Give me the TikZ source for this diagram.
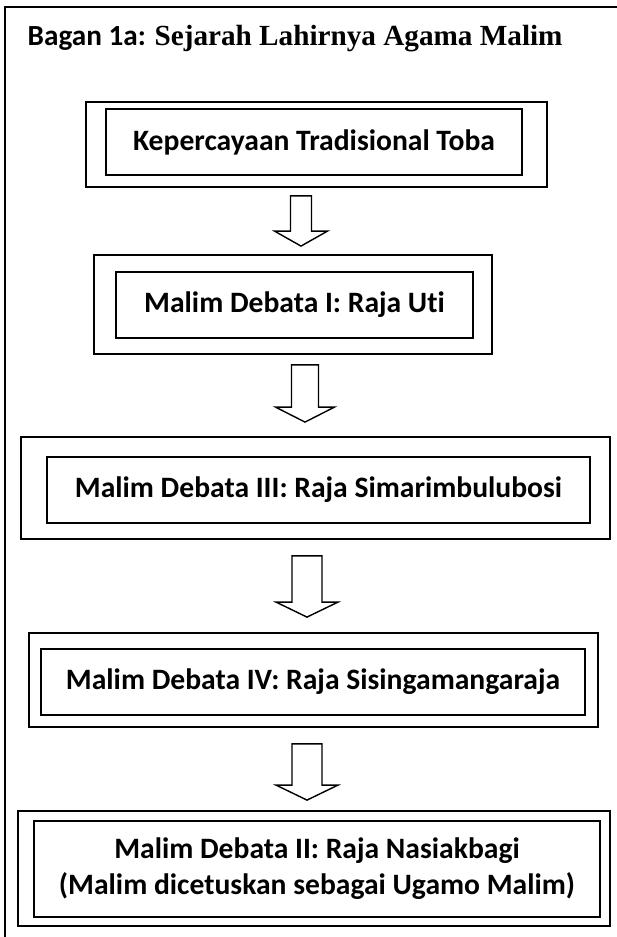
\documentclass[tikz,border=0pt]{standalone}
\usepackage{fontspec}
\setmainfont{Carlito}[Ligatures=NoCommon]
\newfontfamily\timesbold{Liberation Serif}
\usepackage{tikz}
\usetikzlibrary{calc}
\newcommand{\boxfont}{\fontsize{29.6}{36}\selectfont\bfseries}
\newcommand{\hollowdown}[6]{%
  \draw[hollow] let \p1=(#1.south), \p2=(#2.north) in
    (#3-#4,\y1-#5) -- (#3+#4,\y1-#5) -- (#3+#4,\y2+#6+15) -- (#3+#4+16,\y2+#6+15)
    -- (#3,\y2+#6) -- (#3-#4-16,\y2+#6+15) -- (#3-#4,\y2+#6+15) -- cycle;}
\tikzset{
  frame/.style={black,line width=1.8pt},
  outerbox/.style={draw=black,line width=1.8pt,inner sep=0pt},
  innerbox/.style={draw=black,line width=1.8pt,inner sep=0pt,align=center,font=\boxfont},
  hollow/.style={draw=black,line width=1.4pt,fill=white,line join=miter},
  heading/.style={inner sep=0pt,anchor=base west,font=\fontsize{29.2}{33}\selectfont\bfseries},
}

\begin{document}
\begin{tikzpicture}[x=1pt,y=1pt]
  \useasboundingbox (0,0) rectangle (617,937);
  \draw[frame] (5,0) |- (617,930);
  \node[heading] (title) at (27.5,891)
    {Bagan 1a: {\timesbold Sejarah Lahirnya Agama Malim}};

  \node[outerbox,minimum width=461,minimum height=85] (toba) at (316.5,792.5) {};
  \node[innerbox,minimum width=416,minimum height=66] (toba-in) at (314,795)
    {Kepercayaan Tradisional Toba};

  \node[outerbox,minimum width=398,minimum height=99] (uti) at (293,632.5) {};
  \node[innerbox,minimum width=357,minimum height=66] (uti-in) at (294.5,632)
    {Malim Debata I: Raja Uti};

  \node[outerbox,minimum width=589,minimum height=102] (simarimbulubosi) at (315.5,449) {};
  \node[innerbox,minimum width=543,minimum height=66.5] (simarimbulubosi-in) at (318.5,447)
    {Malim Debata III: Raja Simarimbulubosi};

  \node[outerbox,minimum width=569,minimum height=94] (sisinga) at (313.5,257) {};
  \node[innerbox,minimum width=544,minimum height=65.5] (sisinga-in) at (313,255)
    {Malim Debata IV: Raja Sisingamangaraja};

  \node[outerbox,minimum width=592,minimum height=115] (nasiakbagi) at (314,68.5) {};
  \node[innerbox,minimum width=566,minimum height=96] (nasiakbagi-in) at (317,68)
    {Malim Debata II: Raja Nasiakbagi\\(Malim dicetuskan sebagai Ugamo Malim)};

  \hollowdown{toba}{uti}{301}{10.5}{8}{8}
  \hollowdown{uti}{simarimbulubosi}{305}{13.5}{10}{14}
  \hollowdown{simarimbulubosi}{sisinga}{307}{15}{16}{15}
  \hollowdown{sisinga}{nasiakbagi}{307}{15}{16}{10}
\end{tikzpicture}
\end{document}
